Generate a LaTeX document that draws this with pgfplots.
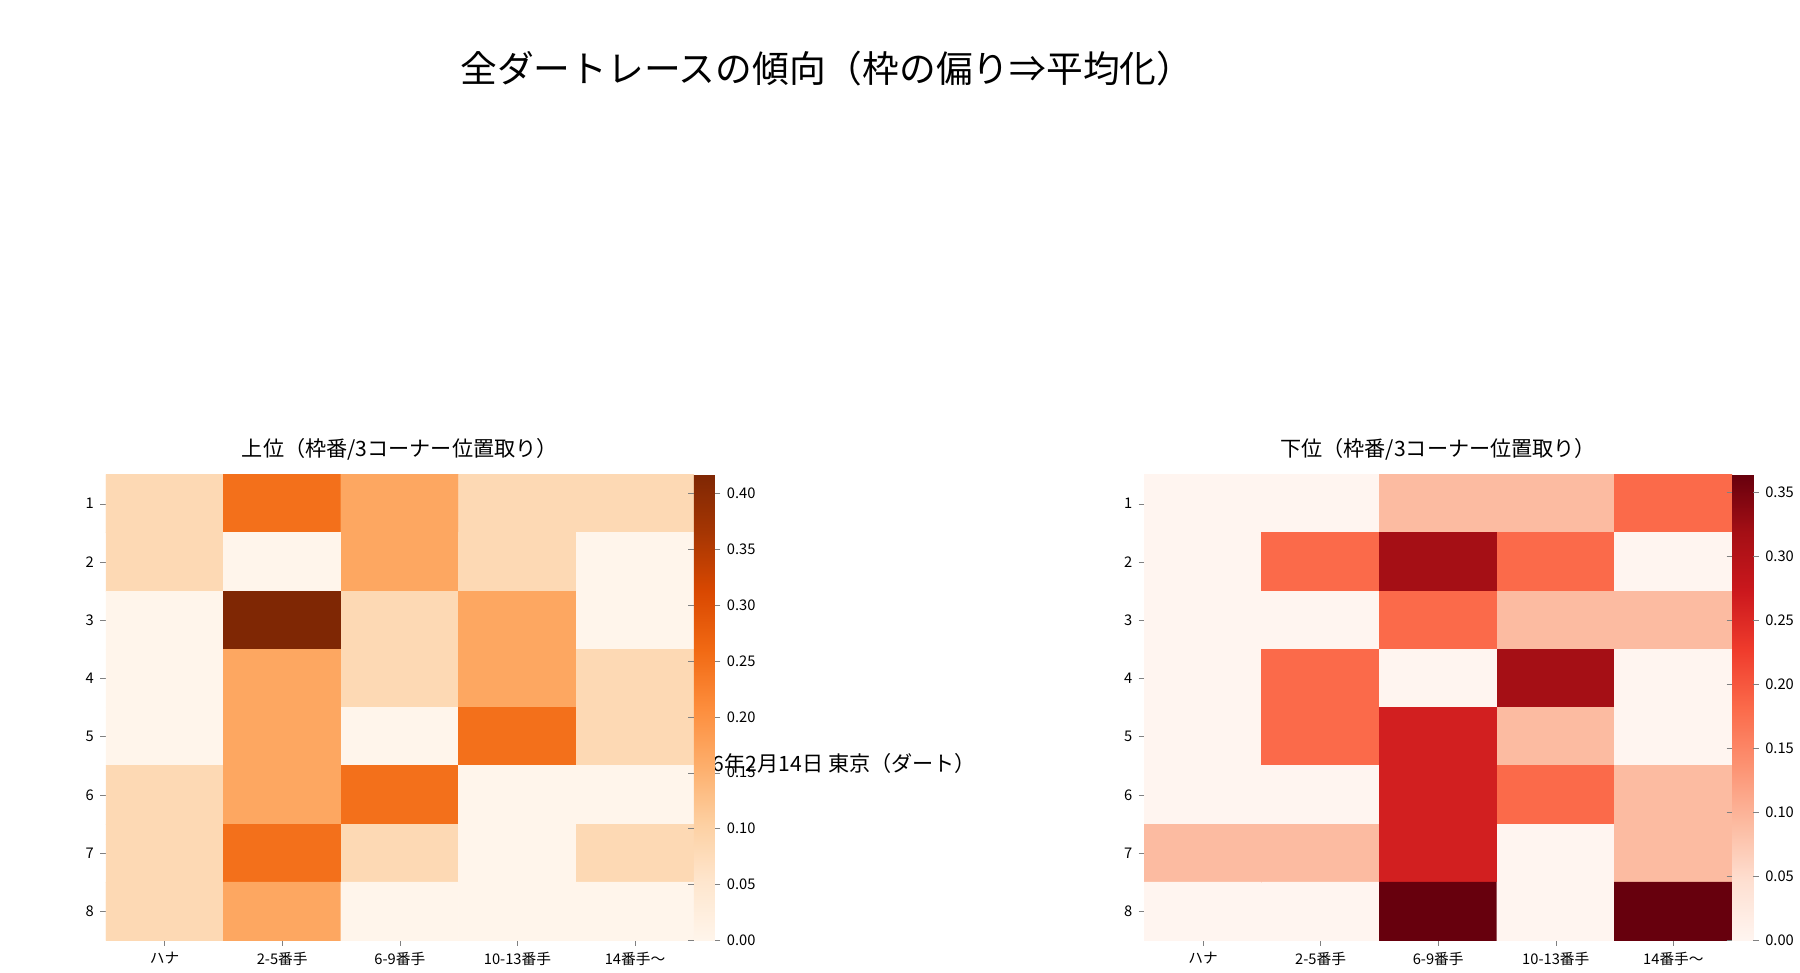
\documentclass[border=0pt]{standalone}
\usepackage{pgfplots}
\pgfplotsset{compat=1.18}
\usepackage{fontspec}
\setmainfont{Noto Sans CJK JP}
\pgfplotsset{
 colormap={oranges}{HTML=(FFF5EB) HTML=(FEE6CE) HTML=(FDD0A2) HTML=(FDAE6B) HTML=(FD8D3C) HTML=(F16913) HTML=(D94801) HTML=(A63603) HTML=(7F2704)},
 colormap={reds}{HTML=(FFF5F0) HTML=(FEE0D2) HTML=(FCBBA1) HTML=(FC9272) HTML=(FB6A4A) HTML=(EF3B2C) HTML=(CB181D) HTML=(A50F15) HTML=(67000D)},
 hm/.style={scale only axis, width=320pt, height=253.5pt,
  xmin=-0.5, xmax=4.5, ymin=0.5, ymax=8.5, y dir=reverse,
  axis line style={draw=none}, tick align=outside, major tick length=3pt,
  xtick={0,...,4}, ytick={1,...,8},
  xticklabels={ハナ,2-5番手,6-9番手,10-13番手,14番手〜},
  /pgf/number format/assume math mode=true,
  tick label style={font=\fontsize{8}{9}\selectfont},
  xtick pos=bottom, ytick pos=left, title style={font=\fontsize{11.5}{13}\selectfont, yshift=-2pt},
  colorbar, point meta min=0,
  colorbar style={at={(1,0)}, anchor=south west, xshift=20.5pt, width=11.5pt,
    axis line style={draw=none}, ytick={0,0.05,...,0.401}, tick align=outside, major tick length=3pt,
    yticklabel style={font=\fontsize{8}{9}\selectfont, /pgf/number format/.cd, fixed, fixed zerofill, precision=2, assume math mode=true}},
 }
}
\begin{document}
\begin{tikzpicture}[x=0.5pt,y=0.5pt]
\path (0,0) rectangle (1800,900);
\node at (900,825) {\fontsize{20}{24}\selectfont 全ダートレースの傾向（枠の偏り⇒平均化）};
\node at (900,69) {\fontsize{11.5}{13}\selectfont 2026年2月14日 東京（ダート）};
\begin{axis}[hm, anchor=south west, at={(90,195)}, point meta max=0.4167, colormap name=oranges,
  title={上位（枠番/3コーナー位置取り）}]
\addplot[matrix plot*, mesh/cols=5, point meta=explicit] table[meta=c]{
x y c
0 1 0.083
1 1 0.25
2 1 0.167
3 1 0.083
4 1 0.083
0 2 0.083
1 2 0
2 2 0.167
3 2 0.083
4 2 0
0 3 0
1 3 0.4167
2 3 0.083
3 3 0.167
4 3 0
0 4 0
1 4 0.167
2 4 0.083
3 4 0.167
4 4 0.083
0 5 0
1 5 0.167
2 5 0
3 5 0.25
4 5 0.083
0 6 0.083
1 6 0.167
2 6 0.25
3 6 0
4 6 0
0 7 0.083
1 7 0.25
2 7 0.083
3 7 0
4 7 0.083
0 8 0.083
1 8 0.167
2 8 0
3 8 0
4 8 0
};
\end{axis}
\begin{axis}[hm, at={(973,195)}, anchor=south west, point meta max=0.3636, colormap name=reds,
  title={下位（枠番/3コーナー位置取り）}]
\addplot[matrix plot*, mesh/cols=5, point meta=explicit] table[meta=c]{
x y c
0 1 0
1 1 0
2 1 0.091
3 1 0.091
4 1 0.182
0 2 0
1 2 0.182
2 2 0.318
3 2 0.182
4 2 0
0 3 0
1 3 0
2 3 0.182
3 3 0.091
4 3 0.091
0 4 0
1 4 0.182
2 4 0
3 4 0.318
4 4 0
0 5 0
1 5 0.182
2 5 0.264
3 5 0.091
4 5 0
0 6 0
1 6 0
2 6 0.264
3 6 0.182
4 6 0.091
0 7 0.091
1 7 0.091
2 7 0.264
3 7 0
4 7 0.091
0 8 0
1 8 0
2 8 0.3636
3 8 0
4 8 0.3636
};
\end{axis}
\end{tikzpicture}
\end{document}
